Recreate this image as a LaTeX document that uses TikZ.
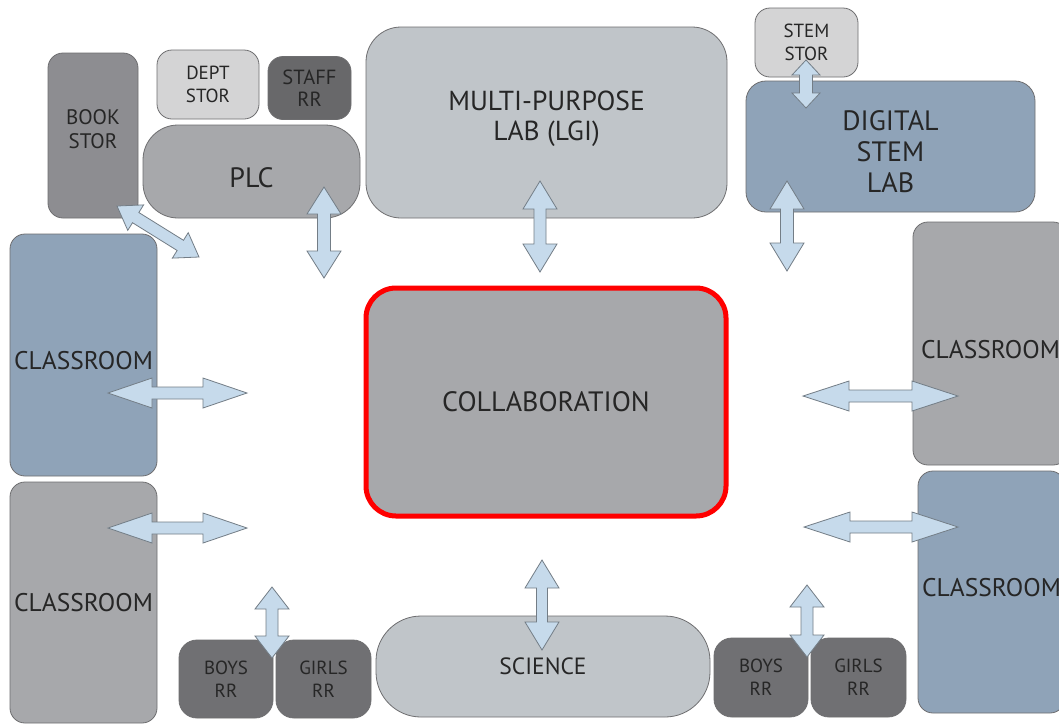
\documentclass[tikz,border=0pt]{standalone}
\usepackage{fontspec}
\setmainfont{PT Sans}
\usetikzlibrary{calc}

\definecolor{roomline}{HTML}{6E6E70}
\definecolor{roomblue}{HTML}{8FA3B8}
\definecolor{roomgray}{HTML}{A7A8AB}
\definecolor{bookgray}{HTML}{8D8D91}
\definecolor{labgray}{HTML}{C0C5C9}
\definecolor{storgray}{HTML}{D4D4D5}
\definecolor{rrgray}{HTML}{707073}
\definecolor{staffgray}{HTML}{68686A}
\definecolor{arrowfill}{HTML}{C6DAEB}
\definecolor{arrowline}{HTML}{737D86}
\definecolor{collabred}{HTML}{FF0000}

\tikzset{
  room/.style={draw=roomline, line width=0.8pt, rounded corners=15pt, align=center,
    text=black!85, inner sep=0pt},
  linkarrow/.style={draw=arrowline, line width=0.8pt, fill=arrowfill, line join=miter},
  bigtext/.style={font=\fontsize{28}{31}\selectfont},
  classtext/.style={font=\fontsize{25.5}{28}\selectfont},
  smalltext/.style={font=\fontsize{19}{23}\selectfont},
}

% double headed block arrow: head length, head half width, shaft half width, from, to
\newcommand{\blockarrow}[5]{%
  \draw[linkarrow] let \p1=($(#5)-(#4)$), \n1={veclen(\x1,\y1)}, \n2={atan2(\y1,\x1)} in
    [shift={(#4)}, rotate=\n2]
    (0pt,0pt) -- (#1pt,#2pt) -- (#1pt,#3pt) -- ({(\n1-#1)*1pt},#3pt) -- ({(\n1-#1)*1pt},#2pt)
    -- ({\n1*1pt},0pt) -- ({(\n1-#1)*1pt},-#2pt) -- ({(\n1-#1)*1pt},-#3pt) -- (#1pt,-#3pt)
    -- (#1pt,-#2pt) -- cycle;}

\begin{document}
\begin{tikzpicture}[x=1pt, y=-1pt]

    \useasboundingbox[fill=white] (0,0) rectangle (1059,724);

    % Top row
    \node[room, fill=bookgray, minimum width=90pt, minimum height=165pt, font=\fontsize{21}{24}\selectfont, text depth=12pt] (bookstor) at (93,135.5) {BOOK\\STOR};
    \node[room, fill=storgray, minimum width=102pt, minimum height=69pt, smalltext] (deptstor) at (208,84.5) {DEPT\\STOR};
    \node[room, fill=staffgray, minimum width=83pt, minimum height=63pt, font=\fontsize{20.5}{22}\selectfont] (staffrr) at (309.5,88) {STAFF\\RR};
    \node[room, fill=roomgray, minimum width=217pt, minimum height=93pt, rounded corners=35pt, bigtext, text height=33pt] (plc) at (251.5,171.5) {PLC};
    \node[room, fill=labgray, minimum width=361pt, minimum height=191pt, rounded corners=35pt,
      font=\fontsize{27.5}{30}\selectfont, text depth=13.5pt] (multilab) at (546.5,122.5) {MULTI-PURPOSE\\LAB (LGI)};
    \node[room, fill=storgray, minimum width=103pt, minimum height=69pt, smalltext] (stemstor) at (806.5,42.5) {STEM\\STOR};
    \node[room, fill=roomblue, minimum width=289pt, minimum height=131pt, rounded corners=20pt,
      font=\fontsize{28}{31}\selectfont, text height=91.5pt] (digilab) at (890.5,146.5) {DIGITAL\\STEM\\LAB};

    % Classrooms
    \node[room, fill=roomblue, minimum width=147pt, minimum height=242pt, classtext, text height=30pt] (classlefta) at (83.5,355) {CLASSROOM};
    \node[room, fill=roomgray, minimum width=147pt, minimum height=241pt, classtext] (classleftb) at (83.5,602.5) {CLASSROOM};
    \node[room, fill=roomgray, minimum width=155pt, minimum height=243pt, classtext, text height=30pt] (classrighta) at (990.5,343.5) {CLASSROOM};
    \node[room, fill=roomblue, minimum width=147pt, minimum height=242pt, classtext, text depth=9pt] (classrightb) at (991.5,592) {CLASSROOM};

    % Collaboration hub
    \node[room, fill=roomgray, draw=collabred, line width=5pt, minimum width=360pt, minimum height=228pt,
      rounded corners=30pt, bigtext] (collab) at (546,402) {COLLABORATION};

    % Bottom row
    \node[room, fill=labgray, minimum width=334pt, minimum height=101pt, rounded corners=45pt,
      font=\fontsize{23.5}{28}\selectfont] (science) at (543,666.5) {SCIENCE};
    \node[room, fill=rrgray, minimum width=94pt, minimum height=78pt, rounded corners=18pt, smalltext] (boysa) at (226,679) {BOYS\\RR};
    \node[room, fill=rrgray, minimum width=95pt, minimum height=78pt, rounded corners=18pt, smalltext] (girlsa) at (323.5,679) {GIRLS\\RR};
    \node[room, fill=rrgray, minimum width=94pt, minimum height=79pt, rounded corners=18pt, smalltext] (boysb) at (761,677.5) {BOYS\\RR};
    \node[room, fill=rrgray, minimum width=95pt, minimum height=79pt, rounded corners=18pt, smalltext] (girlsb) at (858.5,677.5) {GIRLS\\RR};

    % Arrow ends
    \coordinate (book-in) at (117,206);   \coordinate (book-out) at (199,257);
    \coordinate (plc-in) at (324,187);    \coordinate (plc-out) at (324,278);
    \coordinate (multi-in) at (540,181);  \coordinate (multi-out) at (540,272);
    \coordinate (digi-in) at (787,181);   \coordinate (digi-out) at (787,271);
    \coordinate (stem-in) at (806,60);    \coordinate (stem-out) at (806,108);
    \coordinate (cla-in) at (108,393);    \coordinate (cla-out) at (247,393);
    \coordinate (clb-in) at (108,528);    \coordinate (clb-out) at (247,528);
    \coordinate (cra-in) at (958,396);    \coordinate (cra-out) at (803,396);
    \coordinate (crb-in) at (958,527);    \coordinate (crb-out) at (804,527);
    \coordinate (sci-in) at (542,650);    \coordinate (sci-out) at (542,560);
    \coordinate (rra-in) at (272,658);    \coordinate (rra-out) at (272,587);
    \coordinate (rrb-in) at (807,657);    \coordinate (rrb-out) at (807,585);

    % Block arrows
    \blockarrow{22}{15}{6}{book-in}{book-out}
    \blockarrow{27}{17}{6.5}{plc-in}{plc-out}
    \blockarrow{28}{17}{6}{multi-in}{multi-out}
    \blockarrow{28}{17}{6.5}{digi-in}{digi-out}
    \blockarrow{15}{14}{6.5}{stem-in}{stem-out}
    \blockarrow{44}{15}{6}{cla-in}{cla-out}
    \blockarrow{44}{15}{6}{clb-in}{clb-out}
    \blockarrow{46}{15}{6}{cra-in}{cra-out}
    \blockarrow{46}{15}{6}{crb-in}{crb-out}
    \blockarrow{28}{17}{5.5}{sci-in}{sci-out}
    \blockarrow{22}{17}{6}{rra-in}{rra-out}
    \blockarrow{22}{17}{6}{rrb-in}{rrb-out}

\end{tikzpicture}
\end{document}
